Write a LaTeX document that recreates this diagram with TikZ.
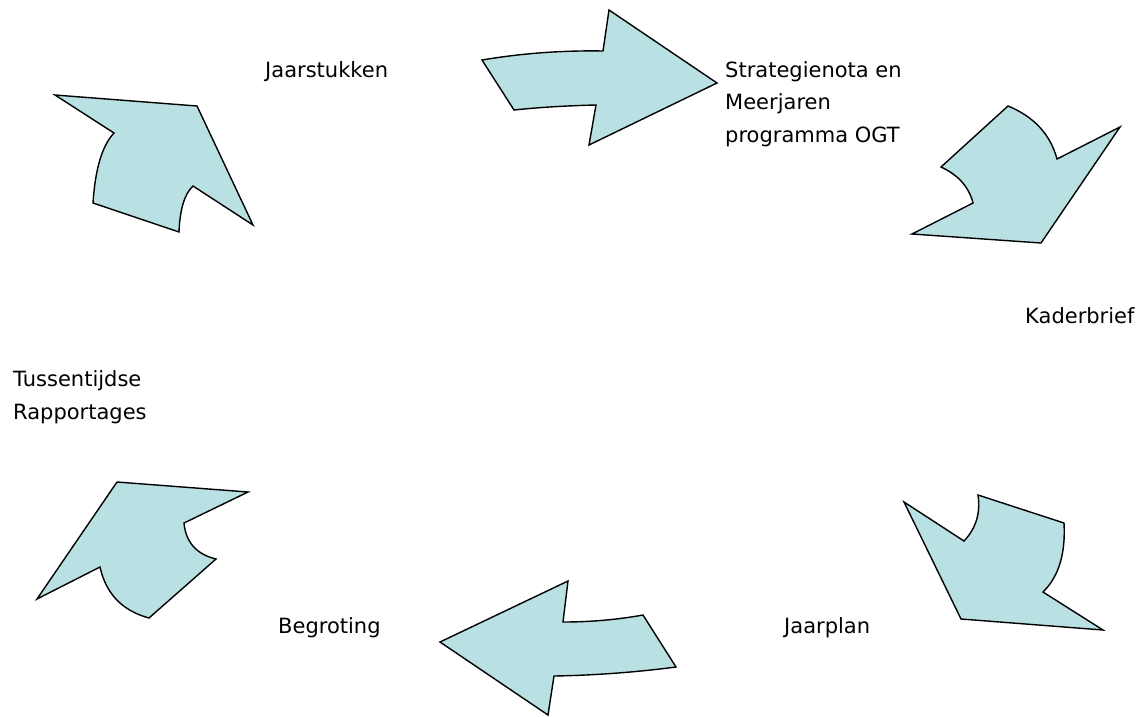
\documentclass[tikz,border=0pt]{standalone}
\usepackage{fontspec}
\setmainfont{DejaVu Sans}
\begin{document}
\begin{tikzpicture}[x=1pt,y=-1pt,
  cyclearrow/.style={draw=black, line width=1.4pt, fill=arrowfill, line join=miter},
  lbl/.style={inner sep=0pt, anchor=base west, align=left, font=\fontsize{21}{32.5}\selectfont, text=black}]
\definecolor{arrowfill}{RGB}{185,224,227}
\useasboundingbox (0,0) rectangle (1146,716);
% top arrow
\draw[cyclearrow] (482,60) .. controls (521.7,53.3) and (562,50.3) .. (603,51) -- (609,10) -- (717,83) -- (589,145) -- (596,105)
  .. controls (566.7,105.7) and (539.3,107.3) .. (514,110) -- cycle;
% top right arrow
\draw[cyclearrow] (1008,106) .. controls (1034,116.7) and (1050.3,134.3) .. (1057,159) -- (1120,127) -- (1041,243) -- (912,234) -- (973,203)
  .. controls (969,187) and (958.3,175) .. (941,167) -- cycle;
% bottom right arrow
\draw[cyclearrow] (904,502) -- (964,541) .. controls (976,528.3) and (980.7,513) .. (978,495) -- (1064,523)
  .. controls (1065.7,553.7) and (1058.7,576.7) .. (1043,592) -- (1103,630) -- (961,619) -- cycle;
% bottom arrow
\draw[cyclearrow] (440,642) -- (568,581) -- (563,622) .. controls (590.3,622) and (617,619.7) .. (643,615) -- (676,667)
  .. controls (635.3,672.3) and (594.7,675.3) .. (554,676) -- (548,715) -- cycle;
% bottom left arrow
\draw[cyclearrow] (117,482) -- (248,492) -- (184,523) .. controls (185.8,542.3) and (196.5,554.3) .. (216,559) -- (149,618)
  .. controls (122.2,610.7) and (105.9,593.7) .. (100,567) -- (37,599) -- cycle;
% top left arrow
\draw[cyclearrow] (55,95) -- (197,106) -- (253,225) -- (193,186) .. controls (184.5,193.9) and (179.9,209.2) .. (179,232) -- (93,203)
  .. controls (95.2,168.8) and (102.2,145.5) .. (114,133) -- cycle;
% labels
\node[lbl] (jaarstukken) at (265,77) {Jaarstukken};
\node[lbl] (strategie) at (725,142) {Strategienota en\\Meerjaren\\programma OGT};
\node[lbl] (kaderbrief) at (1025,323) {Kaderbrief};
\node[lbl] (jaarplan) at (784,633) {Jaarplan};
\node[lbl] (begroting) at (278,633) {Begroting};
\node[lbl] (tussen) at (13,419) {Tussentijdse\\Rapportages};
\end{tikzpicture}
\end{document}
